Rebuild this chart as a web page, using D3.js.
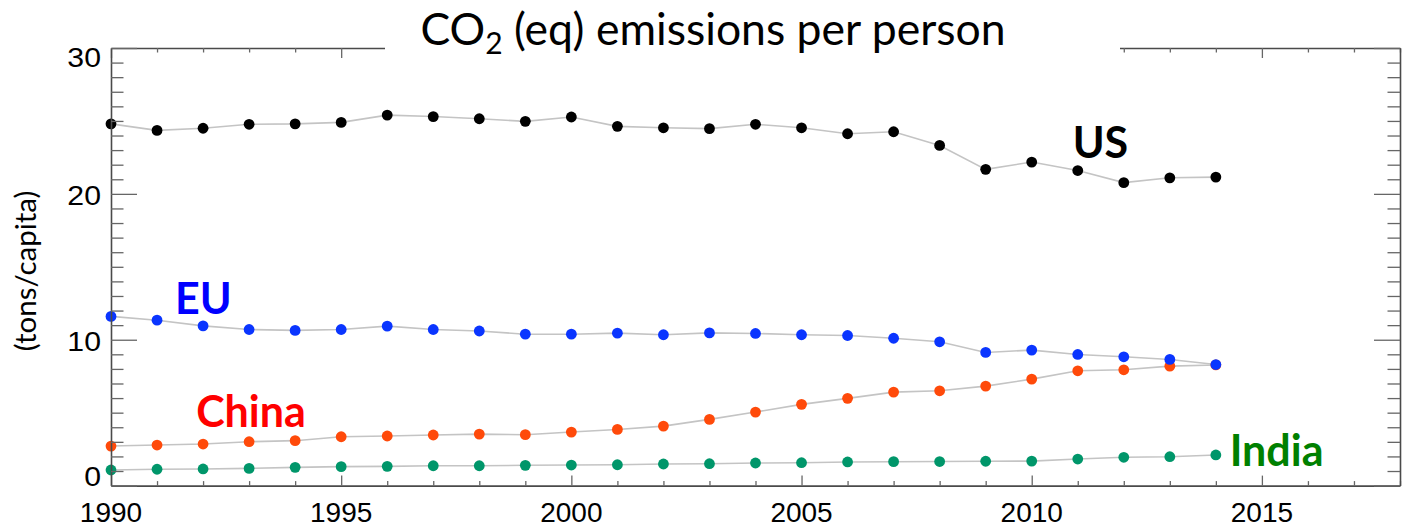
<!DOCTYPE html>
<html>
<head>
<meta charset="utf-8">
<script src="https://cdn.jsdelivr.net/npm/d3@7"></script>
<style>
  html, body { margin: 0; padding: 0; background: #fff; }
  svg { display: block; }
</style>
</head>
<body>
<svg id="chart" width="1405" height="530"></svg>
<script>
// ---- data ----
const years = d3.range(1990, 2015);
const us    = [24.8, 24.35, 24.5, 24.77, 24.8, 24.9, 25.4, 25.3, 25.15, 24.97, 25.27, 24.63, 24.53, 24.47, 24.77, 24.53, 24.12, 24.26, 23.32, 21.68, 22.18, 21.6, 20.77, 21.1, 21.15];
const eu    = [11.6, 11.34, 10.95, 10.7, 10.64, 10.7, 10.93, 10.7, 10.6, 10.38, 10.38, 10.45, 10.34, 10.47, 10.43, 10.34, 10.29, 10.1, 9.86, 9.13, 9.29, 8.99, 8.83, 8.65, 8.3];
const china = [2.71, 2.78, 2.85, 3.01, 3.08, 3.35, 3.4, 3.47, 3.53, 3.49, 3.67, 3.85, 4.08, 4.54, 5.04, 5.57, 5.98, 6.41, 6.5, 6.82, 7.3, 7.87, 7.94, 8.19, 8.27];
const india = [1.07, 1.12, 1.14, 1.18, 1.25, 1.3, 1.32, 1.36, 1.36, 1.39, 1.41, 1.43, 1.48, 1.5, 1.55, 1.57, 1.62, 1.64, 1.65, 1.67, 1.68, 1.82, 1.94, 1.98, 2.1];
const xTickLabels = [1990, 1995, 2000, 2005, 2010, 2015];
const yTickLabels = [0, 10, 20, 30];
const titleMain = "CO";
const titleSub = "2";
const titleRest = " (eq) emissions per person";
const yTitle = "(tons/capita)";

// series (draw order: US, China, India, EU)
const series = [
  { name: "US",    values: us,    dot: "#000000", label: "#000000", lx: 2010.89, ly: 22.44 },
  { name: "China", values: china, dot: "#ff4a0a", label: "#ff0000", lx: 1991.85, ly: 4.01 },
  { name: "India", values: india, dot: "#00966a", label: "#008000", lx: 2014.3,  ly: 1.34 },
  { name: "EU",    values: eu,    dot: "#0a35ff", label: "#0000ff", lx: 1991.39, ly: 11.75 }
];

// ---- layout ----
const svg = d3.select("#chart");
const L = 111, R = 1400, T = 48, B = 485.6;
const x = d3.scaleLinear().domain([1990, 2018]).range([L, R]);
const y = d3.scaleLinear().domain([0, 30]).range([B, T]);

const frameColor = "#4a4a4a";
const tickColor = "#666";

// connecting lines
const line = d3.line().x((d, i) => x(years[i])).y(d => y(d));
const gLines = svg.append("g");
series.forEach(s => {
  gLines.append("path").datum(s.values)
    .attr("d", line).attr("fill", "none")
    .attr("stroke", "#c4c4c4").attr("stroke-width", 1.6);
});

// dots
const gDots = svg.append("g");
series.forEach(s => {
  gDots.selectAll(null).data(s.values).enter().append("circle")
    .attr("cx", (d, i) => x(years[i])).attr("cy", d => y(d))
    .attr("r", 5.4).attr("fill", s.dot);
});

// frame axes with inward ticks
const gAx = svg.append("g");
const xMinor = d3.range(1990, 2019);
const yMinor = d3.range(0, 31);
const gb = gAx.append("g").attr("transform", `translate(0,${B})`)
  .call(d3.axisTop(x).tickValues(xMinor).tickFormat("").tickSizeOuter(0).tickSizeInner(4.5));
const gt = gAx.append("g").attr("transform", `translate(0,${T})`)
  .call(d3.axisBottom(x).tickValues(xMinor).tickFormat("").tickSizeOuter(0).tickSizeInner(4.5));
const gl = gAx.append("g").attr("transform", `translate(${L},0)`)
  .call(d3.axisRight(y).tickValues(yMinor).tickFormat("").tickSizeOuter(0).tickSizeInner(12.5));
const gr = gAx.append("g").attr("transform", `translate(${R},0)`)
  .call(d3.axisLeft(y).tickValues(yMinor).tickFormat("").tickSizeOuter(0).tickSizeInner(12.5));
gb.selectAll(".tick line").attr("y2", d => d % 5 === 0 ? -10 : -4.5);
gt.selectAll(".tick line").attr("y2", d => d % 5 === 0 ? 10 : 4.5);
gl.selectAll(".tick line").attr("x2", d => d % 10 === 0 ? 26 : 12.5);
gr.selectAll(".tick line").attr("x2", d => d % 10 === 0 ? -26 : -12.5);
gAx.selectAll(".tick line").attr("stroke", tickColor).attr("stroke-width", 1.3);
gAx.selectAll(".domain").attr("stroke", frameColor).attr("stroke-width", 1.6);

// tick labels
const gx = svg.append("g");
gx.selectAll("text").data(xTickLabels).enter().append("text")
  .attr("x", d => x(d)).attr("y", 522)
  .attr("text-anchor", "middle")
  .attr("font-family", "Liberation Sans, Arial, sans-serif")
  .attr("font-size", 28).attr("fill", "#000")
  .text(d => d);
const gy = svg.append("g");
gy.selectAll("text").data(yTickLabels).enter().append("text")
  .attr("transform", d => {
    const by = Math.max(T + 19, Math.min(B + 0.5, y(d) + 11.5));
    return `translate(101,${by}) scale(1.12,1)`;
  })
  .attr("text-anchor", "end")
  .attr("font-family", "Liberation Sans, Arial, sans-serif")
  .attr("font-size", 27).attr("fill", "#000")
  .text(d => d);

// title with white background that cuts the top axis
svg.append("rect").attr("x", 385).attr("y", 0).attr("width", 1120 - 385).attr("height", 62).attr("fill", "#fff");
const title = svg.append("text").attr("x", 713).attr("y", 45)
  .attr("text-anchor", "middle")
  .attr("font-family", "Lato, 'Open Sans', sans-serif")
  .attr("font-size", 44.5).attr("fill", "#000");
title.append("tspan").text(titleMain);
title.append("tspan").attr("font-size", 30).attr("dy", 9).text(titleSub);
title.append("tspan").attr("dy", -9).text(titleRest);

// y axis title
svg.append("text").attr("transform", "translate(36,271) rotate(-90)")
  .attr("text-anchor", "middle")
  .attr("font-family", "Lato, 'Open Sans', sans-serif")
  .attr("font-size", 29.5).attr("fill", "#000")
  .text(yTitle);

// series labels
svg.append("g").selectAll("text").data(series).enter().append("text")
  .attr("x", d => x(d.lx)).attr("y", d => y(d.ly))
  .attr("font-family", "Lato, 'Open Sans', sans-serif")
  .attr("font-weight", "bold").attr("font-size", 43)
  .attr("fill", d => d.label)
  .text(d => d.name);
</script>
</body>
</html>
